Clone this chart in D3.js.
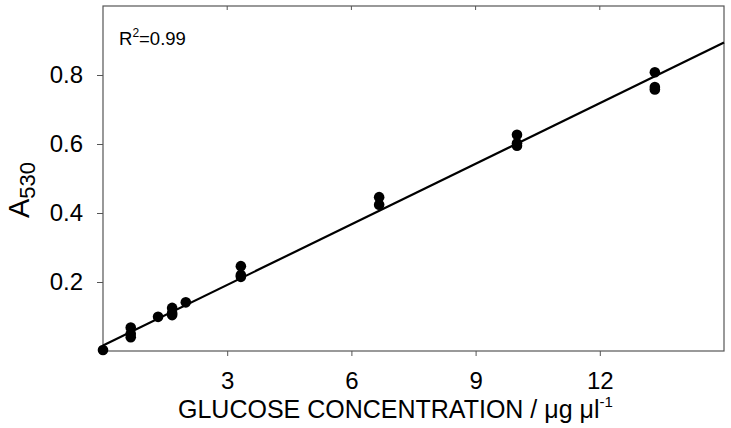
<!DOCTYPE html>
<html>
<head>
<meta charset="utf-8">
<script src="https://cdn.jsdelivr.net/npm/d3@7"></script>
<style>
	body { margin: 0; background: #fff; }
	text { font-family: "Liberation Sans", Arial, sans-serif; fill: #000; }
</style>
</head>
<body>
<div id="chart"></div>
<script>
// measured glucose standards (ug/ul) and absorbance at 530 nm
const conc = [0, 0.67, 0.67, 0.67, 1.33, 1.67, 1.67, 1.67, 2.0,
	3.33, 3.33, 3.33, 6.67, 6.67, 10, 10, 10, 13.33, 13.33, 13.33];
const absorb = [0.003, 0.068, 0.05, 0.04, 0.099, 0.125, 0.11, 0.104, 0.141,
	0.246, 0.22, 0.215, 0.446, 0.424, 0.627, 0.602, 0.595, 0.808, 0.765, 0.758];
const fitX = [0, 15];
const fitY = [0.016, 0.894];
const xTicks = [3, 6, 9, 12];
const yTicks = [0.2, 0.4, 0.6, 0.8];

const W = 731, H = 428;
const
	LEFT = 103, RIGHT = 724, TOP = 6, BOTTOM = 351,
	POINT_RADIUS = 5.3;

var svg = d3.select("#chart").append("svg")
	.attr("width", W).attr("height", H);

var x = d3.scaleLinear().domain([0, 15]).range([LEFT, RIGHT]);
var y = d3.scaleLinear().domain([0, 1]).range([BOTTOM, TOP]);

// frame
svg.append("rect")
	.attr("x", LEFT).attr("y", TOP)
	.attr("width", RIGHT - LEFT).attr("height", BOTTOM - TOP)
	.attr("fill", "none").attr("stroke", "#555").attr("stroke-width", 1.2);

var xAxis = svg.append("g")
	.attr("transform", "translate(0," + BOTTOM + ")")
	.call(d3.axisBottom(x).tickValues(xTicks).tickSize(5).tickPadding(16).tickFormat(d3.format("d")));
var yAxis = svg.append("g")
	.attr("transform", "translate(" + LEFT + ",0)")
	.call(d3.axisLeft(y).tickValues(yTicks).tickSize(6).tickPadding(14).tickFormat(d3.format(".1f")));
[xAxis, yAxis].forEach(function(g) {
	g.select(".domain").remove();
	g.selectAll("line").attr("stroke", "#555");
	g.selectAll("text").style("font-size", "24px").attr("fill", "#000");
});

// small inward ticks on the top edge
svg.selectAll(".topTick")
	.data(xTicks).enter().append("line")
	.attr("x1", function(d) { return x(d); }).attr("x2", function(d) { return x(d); })
	.attr("y1", TOP).attr("y2", TOP + 4)
	.attr("stroke", "#555");

// regression line
svg.append("line")
	.attr("x1", x(fitX[0])).attr("y1", y(fitY[0]))
	.attr("x2", x(fitX[1])).attr("y2", y(fitY[1]))
	.attr("stroke", "#000").attr("stroke-width", 2.2);

svg.selectAll("circle")
	.data(conc)
	.enter().append("circle")
	.attr("cx", function(d) { return x(d); })
	.attr("cy", function(d, i) { return y(absorb[i]); })
	.attr("r", POINT_RADIUS)
	.attr("fill", "#000");

// R squared
var r2 = svg.append("text").attr("x", 119).attr("y", 45).style("font-size", "18.5px");
r2.append("tspan").text("R");
r2.append("tspan").attr("dy", -8).style("font-size", "12px").text("2");
r2.append("tspan").attr("dy", 8).text("=0.99");

// x title
var xt = svg.append("text").attr("x", 178).attr("y", 418).style("font-size", "25px");
xt.append("tspan").text("GLUCOSE CONCENTRATION / \u03bcg \u03bcl");
xt.append("tspan").attr("dy", -11).style("font-size", "15px").text("-1");

// y title
var yt = svg.append("text")
	.attr("transform", "translate(29,218) rotate(-90)")
	.style("font-size", "29px");
yt.append("tspan").text("A");
yt.append("tspan").attr("dy", 6).style("font-size", "22px").text("530");
</script>
</body>
</html>
